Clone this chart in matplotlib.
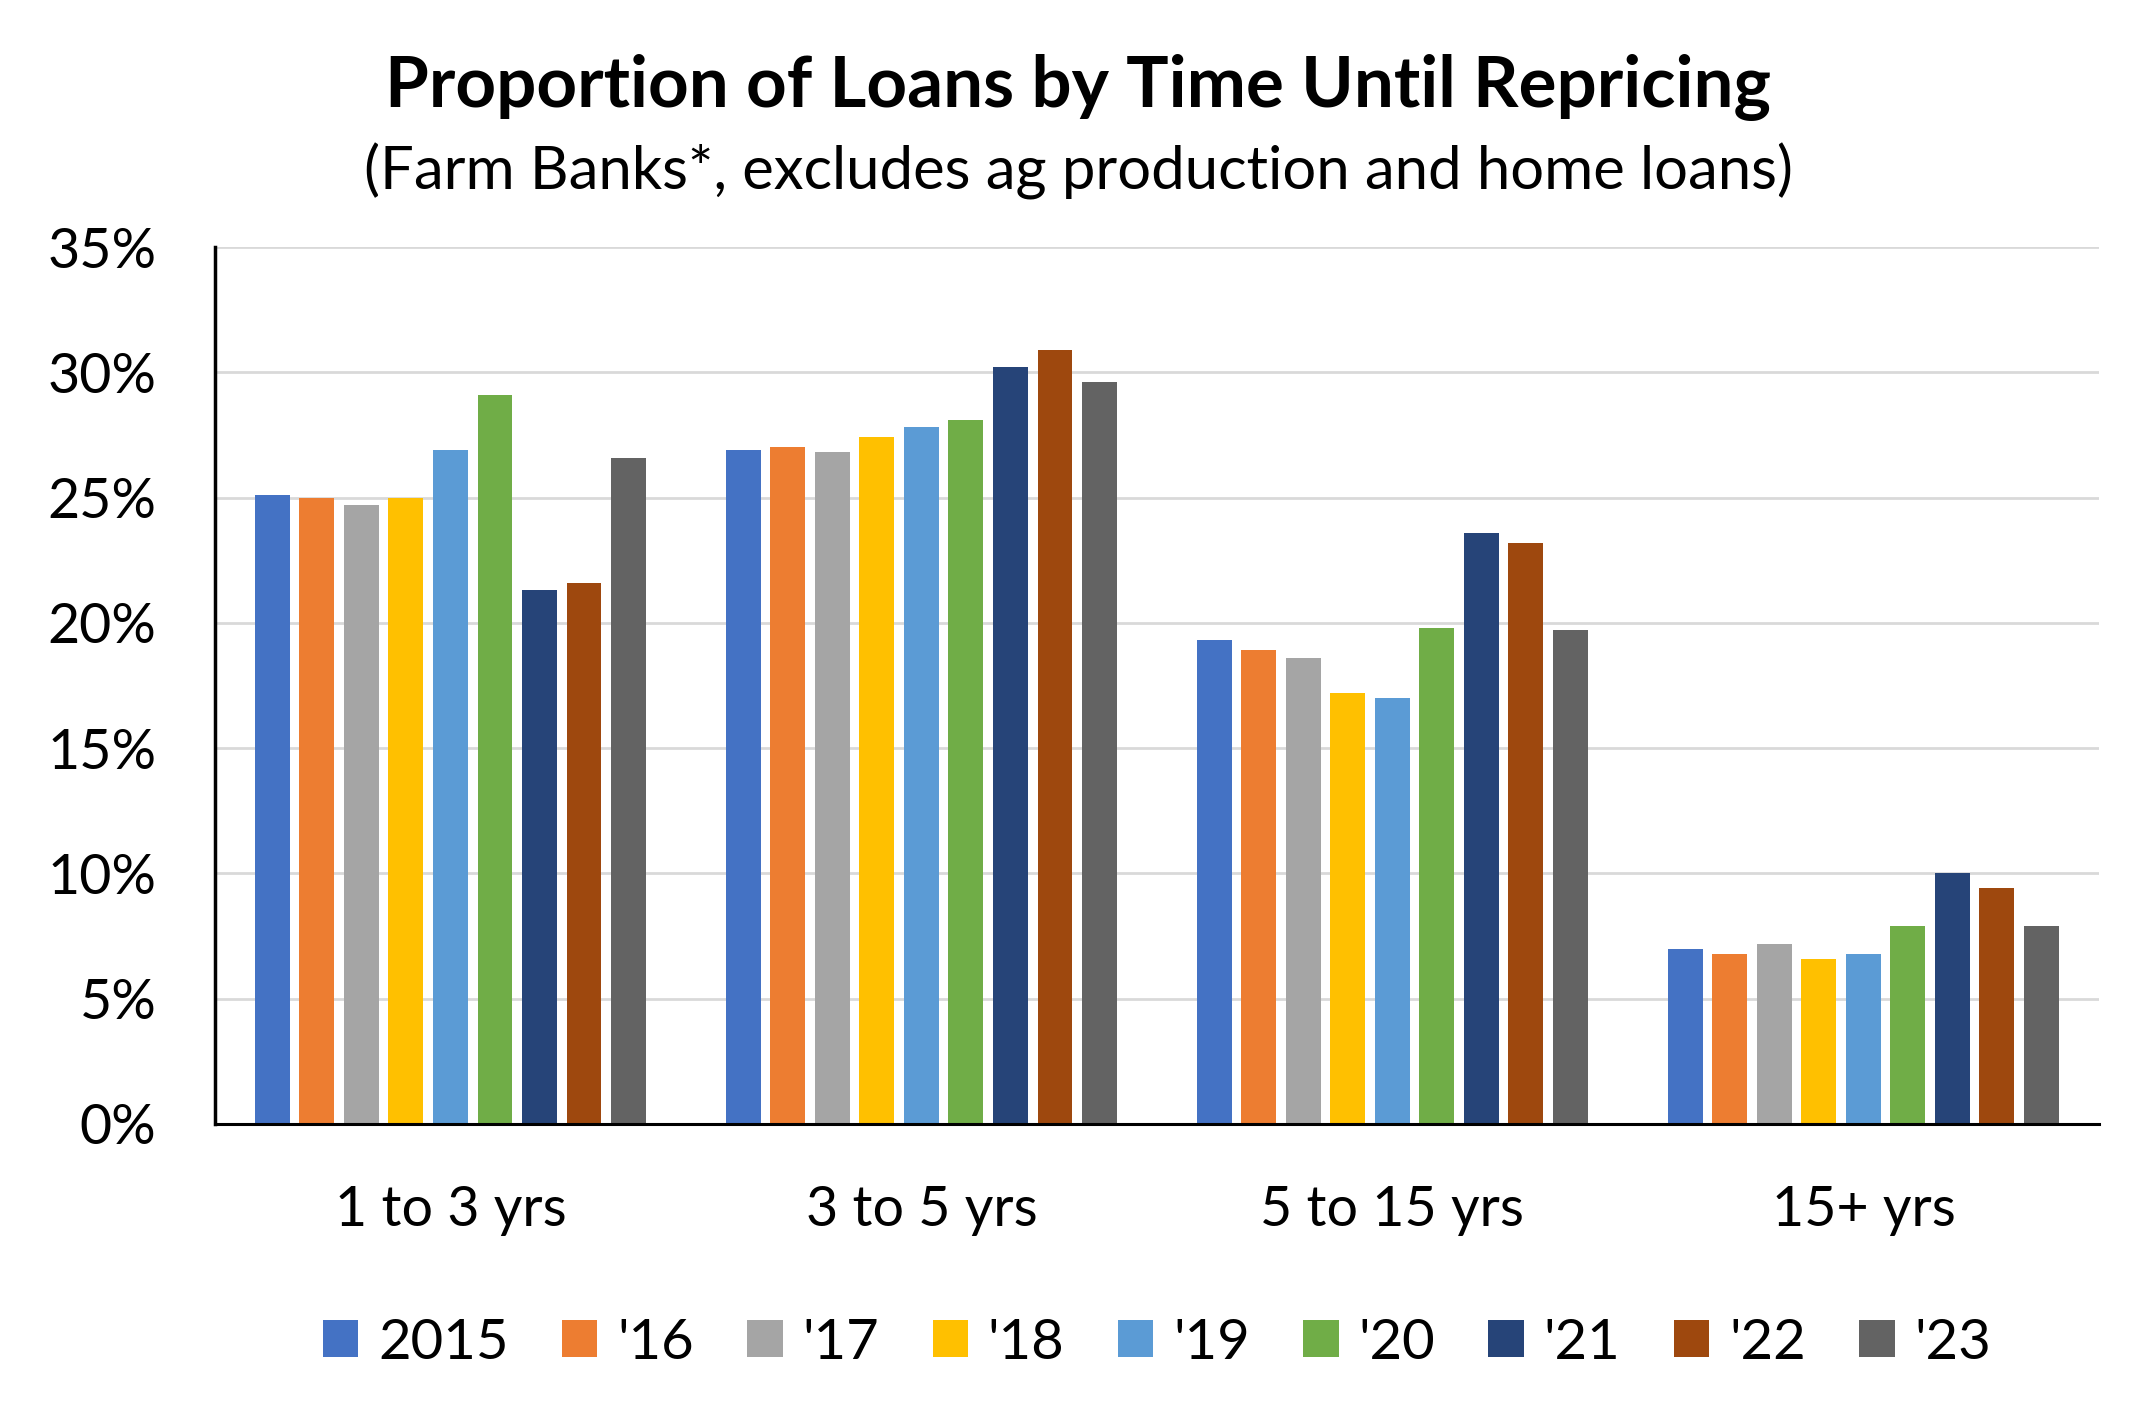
import matplotlib
matplotlib.use('Agg')
import matplotlib.pyplot as plt
import numpy as np

plt.rcParams['font.family'] = ['Lato', 'DejaVu Sans']

# Data (percent of loans)
categories = ['1 to 3 yrs', '3 to 5 yrs', '5 to 15 yrs', '15+ yrs']
years = ['2015', "'16", "'17", "'18", "'19", "'20", "'21", "'22", "'23"]
v2015 = [25.1, 26.9, 19.3, 7.0]
v2016 = [25.0, 27.0, 18.9, 6.8]
v2017 = [24.7, 26.8, 18.6, 7.2]
v2018 = [25.0, 27.4, 17.2, 6.6]
v2019 = [26.9, 27.8, 17.0, 6.8]
v2020 = [29.1, 28.1, 19.8, 7.9]
v2021 = [21.3, 30.2, 23.6, 10.0]
v2022 = [21.6, 30.9, 23.2, 9.4]
v2023 = [26.6, 29.6, 19.7, 7.9]
series = [v2015, v2016, v2017, v2018, v2019, v2020, v2021, v2022, v2023]
yticks = [0, 5, 10, 15, 20, 25, 30, 35]
ytick_labels = ['0%', '5%', '10%', '15%', '20%', '25%', '30%', '35%']

colors = ['#4472C4', '#ED7D31', '#A5A5A5', '#FFC000', '#5B9BD5',
          '#70AD47', '#264478', '#9E480E', '#636363']

fig = plt.figure(figsize=(21.45, 14.15), dpi=100)
ax = fig.add_axes([0.1002, 0.2057, 0.8783, 0.6197])

x = np.arange(len(categories))
slot = 0.0945
width = 0.074
n = len(series)
for i, (vals, lab, col) in enumerate(zip(series, years, colors)):
    offs = (i - (n - 1) / 2) * slot
    ax.bar(x + offs, vals, width, color=col, label=lab, zorder=3)

ax.set_xlim(-0.5, len(categories) - 0.5)
ax.set_ylim(0, 35)
ax.set_yticks(yticks)
ax.set_yticklabels(ytick_labels)
ax.set_xticks(x)
ax.set_xticklabels(categories)
ax.tick_params(axis='y', length=0, pad=42, labelsize=40)
ax.tick_params(axis='x', length=0, pad=44, labelsize=40)

ax.grid(axis='y', color='#D9D9D9', linewidth=2, zorder=0)
ax.set_axisbelow(True)
for s in ['top', 'right']:
    ax.spines[s].set_visible(False)
ax.spines['left'].set_linewidth(2.5)
ax.spines['bottom'].set_linewidth(2.2)
ax.spines['bottom'].set_zorder(4)

fig.text(0.5025, 0.9244, 'Proportion of Loans by Time Until Repricing',
         ha='center', va='baseline', fontsize=51, fontweight='bold')
fig.text(0.5030, 0.8660, '(Farm Banks*, excludes ag production and home loans)',
         ha='center', va='baseline', fontsize=43)

ax.legend(loc='center', bbox_to_anchor=(0.5, -0.25), ncol=9, frameon=False,
          fontsize=40.5, handlelength=0.63, handleheight=0.63,
          handletextpad=0.35, columnspacing=0.95, borderaxespad=0)

fig.savefig('out.png', dpi=100)
